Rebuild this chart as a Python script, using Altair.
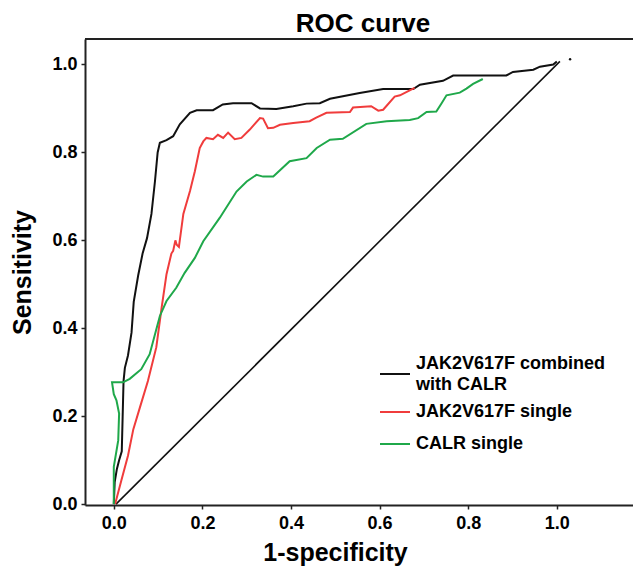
import altair as alt
import pandas as pd

# ---- data ----
combined_x = [0.0, 0.002, 0.007, 0.012, 0.018, 0.020, 0.022, 0.025, 0.032, 0.040, 0.045, 0.055, 0.065, 0.075,
              0.085, 0.093, 0.099, 0.104, 0.119, 0.134, 0.149, 0.172, 0.187, 0.224, 0.246, 0.269, 0.311,
              0.330, 0.367, 0.405, 0.435, 0.465, 0.488, 0.555, 0.608, 0.676, 0.691, 0.743, 0.766, 0.886,
              0.901, 0.947, 0.962, 0.992, 1.0]
combined_y = [0.0, 0.05, 0.08, 0.10, 0.12, 0.20, 0.28, 0.31, 0.338, 0.39, 0.46, 0.52, 0.57, 0.605,
              0.66, 0.735, 0.80, 0.822, 0.828, 0.837, 0.864, 0.89, 0.896, 0.896, 0.909, 0.912, 0.912,
              0.90, 0.899, 0.905, 0.911, 0.912, 0.922, 0.935, 0.944, 0.944, 0.954, 0.963, 0.975, 0.975,
              0.983, 0.988, 0.995, 1.0, 1.007]

jak2_x = [0.003, 0.017, 0.032, 0.044, 0.059, 0.077, 0.096, 0.108, 0.119, 0.130, 0.134, 0.139, 0.142, 0.147,
          0.157, 0.172, 0.183, 0.194, 0.202, 0.209, 0.224, 0.235, 0.247, 0.258, 0.273, 0.288, 0.307,
          0.330, 0.337, 0.348, 0.360, 0.375, 0.405, 0.442, 0.457, 0.480, 0.533, 0.540, 0.581, 0.597,
          0.608, 0.634, 0.646, 0.679]
jak2_y = [0.0, 0.054, 0.11, 0.17, 0.22, 0.28, 0.357, 0.447, 0.523, 0.57, 0.576, 0.60, 0.59, 0.585,
          0.66, 0.712, 0.757, 0.81, 0.825, 0.833, 0.83, 0.84, 0.833, 0.845, 0.83, 0.833, 0.852,
          0.878, 0.877, 0.855, 0.856, 0.863, 0.867, 0.871, 0.879, 0.89, 0.892, 0.902, 0.905, 0.895,
          0.897, 0.927, 0.93, 0.947]

calr_x = [0.0, 0.0, 0.010, 0.012, 0.006, 0.0, -0.004, 0.021, 0.036, 0.062, 0.081, 0.104, 0.119, 0.141,
          0.160, 0.183, 0.202, 0.239, 0.277, 0.300, 0.322, 0.337, 0.360, 0.397, 0.435, 0.458, 0.488,
          0.517, 0.570, 0.616, 0.668, 0.687, 0.706, 0.728, 0.740, 0.751, 0.781, 0.796, 0.811, 0.833]
calr_y = [0.0, 0.085, 0.145, 0.206, 0.236, 0.25, 0.277, 0.277, 0.285, 0.307, 0.341, 0.428, 0.462, 0.492,
          0.526, 0.56, 0.598, 0.651, 0.711, 0.734, 0.749, 0.745, 0.745, 0.78, 0.787, 0.81, 0.829,
          0.831, 0.865, 0.871, 0.874, 0.878, 0.892, 0.893, 0.912, 0.93, 0.936, 0.945, 0.956, 0.967]

series_names = ["JAK2V617F combined with CALR", "JAK2V617F single", "CALR single"]
legend_lines = [["JAK2V617F combined", "with CALR"], ["JAK2V617F single"], ["CALR single"]]
series_colors = ["#111111", "#f03c3c", "#1fa84a"]

diag_x = [0.005, 1.007]
diag_y = [0.0, 1.007]
dot_x = [1.03]
dot_y = [1.012]

x_ticks = [0.0, 0.2, 0.4, 0.6, 0.8, 1.0]
y_ticks = [0.0, 0.2, 0.4, 0.6, 0.8, 1.0]

# ---- tables ----
rows = []
for name, xs, ys in zip(series_names, [combined_x, jak2_x, calr_x], [combined_y, jak2_y, calr_y]):
    for i, (a, b) in enumerate(zip(xs, ys)):
        rows.append({"series": name, "x": a, "y": b, "i": i})
df = pd.DataFrame(rows)
diag = pd.DataFrame({"x": diag_x, "y": diag_y, "i": [0, 1]})
dot = pd.DataFrame({"x": dot_x, "y": dot_y})

FONT = "Liberation Sans"
W, H = 548, 466

# legend layout (pixels inside the plot area)
LEG_X0, LEG_X1, LEG_TX = 295, 325, 331
LEG_Y = [335, 373, 405]
LINE_H = 21
leg_sym = pd.DataFrame({"series": series_names, "ly": LEG_Y})
leg_txt_values = []
for lines, yc in zip(legend_lines, LEG_Y):
    n = len(lines)
    leg_txt_values.append({"text": lines if n > 1 else lines[0],
                           "ly": yc - (n - 1) / 2 * LINE_H})
leg_txt = alt.Data(values=leg_txt_values)

xscale = alt.Scale(domain=[-0.065, 1.172], nice=False, zero=False)
yscale = alt.Scale(domain=[-0.002, 1.058], nice=False, zero=False)

xaxis = alt.Axis(values=x_ticks, format=".1f", title="1-specificity", labelPadding=5,
                 titlePadding=8, titleX=250)
yaxis = alt.Axis(values=y_ticks, format=".1f", title="Sensitivity", labelPadding=4,
                 titlePadding=16)

color = alt.Color("series:N", scale=alt.Scale(domain=series_names, range=series_colors), legend=None)

curves = alt.Chart(df).mark_line(strokeWidth=2, interpolate="linear").encode(
    x=alt.X("x:Q", scale=xscale, axis=xaxis),
    y=alt.Y("y:Q", scale=yscale, axis=yaxis),
    order="i:Q",
    color=color,
)

diagonal = alt.Chart(diag).mark_line(strokeWidth=1.6, color="#111111").encode(
    x=alt.X("x:Q", scale=xscale, axis=xaxis),
    y=alt.Y("y:Q", scale=yscale, axis=yaxis),
    order="i:Q",
)

dots = alt.Chart(dot).mark_circle(size=6, color="#111111", opacity=1).encode(
    x=alt.X("x:Q", scale=xscale),
    y=alt.Y("y:Q", scale=yscale),
)

top_border = alt.Chart(dot).mark_rule(color="#222222", strokeWidth=2).encode(
    x=alt.value(0), x2=alt.value(W), y=alt.value(0)
)

legend_sym = alt.Chart(leg_sym).mark_rule(strokeWidth=2).encode(
    x=alt.value(LEG_X0), x2=alt.value(LEG_X1),
    y=alt.Y("ly:Q", scale=None),
    color=color,
)

legend_text = alt.Chart(leg_txt).mark_text(
    align="left", baseline="middle", font=FONT, fontSize=18, fontWeight="bold", color="#000",
    lineHeight=LINE_H,
).encode(
    x=alt.value(LEG_TX),
    y=alt.Y("ly:Q", scale=None),
    text="text:N",
)

chart = alt.layer(diagonal, curves, dots, top_border, legend_sym, legend_text).properties(
    width=W, height=H,
    autosize=alt.AutoSizeParams(type="none"),
    padding={"left": 77, "top": 31, "right": 0, "bottom": 62},
    title=alt.TitleParams("ROC curve", font=FONT, fontSize=26, fontWeight="bold",
                          color="#000", anchor="middle", offset=1, dx=4),
).configure_view(strokeWidth=0).configure_axis(
    grid=False, domainColor="#222222", domainWidth=2, tickColor="#222222", tickWidth=1.5,
    tickSize=4, labelFont=FONT, labelFontSize=18, labelFontWeight="bold", labelColor="#000",
    titleFont=FONT, titleFontSize=25, titleFontWeight="bold", titleColor="#000",
)

chart.save("out.html", embed_options={"renderer": "svg", "actions": False})
